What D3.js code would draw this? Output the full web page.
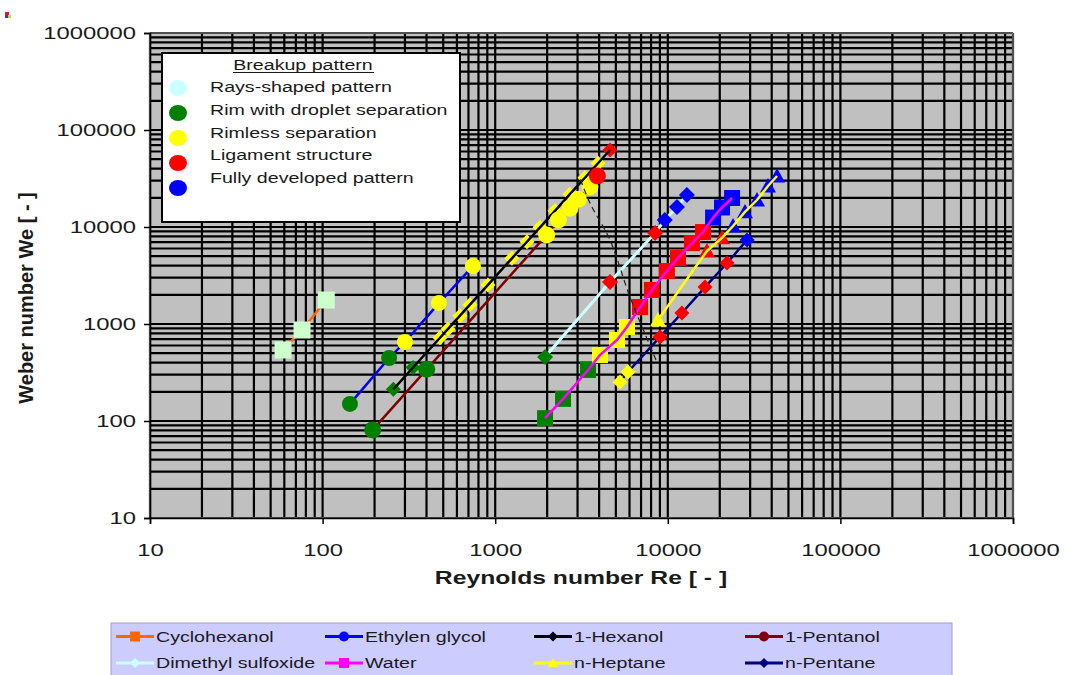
<!DOCTYPE html>
<html>
<head>
<meta charset="utf-8">
<script src="https://cdn.jsdelivr.net/npm/d3@7"></script>
<style>
  body { margin: 0; background: #fff; }
  svg { display: block; font-family: "Liberation Sans", Arial, sans-serif; }
</style>
</head>
<body>
<svg id="chart" width="1067" height="675"></svg>
<script>
// fluids in legend order, breakup patterns of the inner legend
var fluids = ["Cyclohexanol", "Ethylen glycol", "1-Hexanol", "1-Pentanol",
              "Dimethyl sulfoxide", "Water", "n-Heptane", "n-Pentane"];
var patterns = ["Rays-shaped pattern", "Rim with droplet separation", "Rimless separation",
                "Ligament structure", "Fully developed pattern"];
var decades = [10, 100, 1000, 10000, 100000, 1000000];

// each point: [Re, We, pattern index]
var cyclohexanol = [[59, 540, 0], [76, 867, 0], [105, 1767, 0]];
var ethylenGlycol = [[144, 150, 1], [243, 446, 1], [300, 652, 2], [472, 1643, 2], [743, 3963, 2]];
var hexanol = [[257, 212, 1], [334, 356, 1], [479, 722, 2], [533, 890, 2], [625, 1218, 2],
               [714, 1582, 2], [908, 2529, 2], [1250, 4754, 2], [1528, 7050, 2], [1818, 9930, 2],
               [2220, 14690, 2], [2710, 21780, 2], [3311, 32200, 2], [3942, 45400, 2], [4625, 62200, 3]];
var pentanol = [[195, 81, 1], [401, 341, 1], [1986, 8280, 2], [2323, 11800, 2], [2710, 15600, 2],
                [3030, 19300, 2], [3540, 26000, 2], [3908, 33600, 3]];
var dmso = [[1945, 457, 1], [4625, 2710, 3], [8440, 8670, 3], [9600, 11800, 4],
            [11300, 16100, 4], [12900, 21400, 4]];
var water = [[1945, 107, 1], [2472, 169, 1], [3450, 336, 1], [4046, 479, 2], [5080, 684, 2],
             [5800, 931, 2], [6905, 1497, 3], [8090, 2245, 3], [9880, 3515, 3], [11450, 4786, 3],
             [13800, 6840, 3], [16000, 8870, 3], [18300, 12500, 4], [20600, 15900, 4], [23570, 19900, 4]];
var heptane = [[8770, 1099, 2], [16860, 5665, 3], [20600, 7710, 3], [23880, 10240, 4],
               [28000, 14290, 4], [32860, 18970, 4], [38080, 26470, 4], [42960, 33560, 4]];
var pentane = [[5280, 252, 2], [5870, 320, 2], [9020, 735, 3], [12070, 1298, 3],
               [16430, 2404, 3], [22030, 4254, 3], [28780, 7340, 4]];
// hand drawn dashed transition line
var boundary = [[2978, 38700], [3540, 17660], [4625, 7340], [6040, 1897], [8650, 405]];

var seriesPoints = [cyclohexanol, ethylenGlycol, hexanol, pentanol, dmso, water, heptane, pentane];

// styles
var lineColors = ["#ff6600", "#0000ff", "#000000", "#800000", "#ccffff", "#ff00ff", "#ffff00", "#000080"];
var shapes = ["square", "circle", "diamond", "circle", "diamond", "square", "triangle", "diamond"];
var markerHalf = [8.5, 8, 7.5, 8.5, 8, 8, 8, 7.5];
var patternColors = ["#ccffff", "#008000", "#ffff00", "#ff0000", "#0000ff"];
var raysTint = {"Cyclohexanol": "#ccffcc"};
var linesOnTop = ["1-Hexanol", "Water", "n-Heptane"];

var svg = d3.select("#chart");
var stretch = 1.4; // the picture is wider than tall, text too

function widen(sel, k) {
  sel.each(function() {
    var w = this.getComputedTextLength();
    d3.select(this).attr("textLength", w * k).attr("lengthAdjust", "spacingAndGlyphs");
  });
}

function markerPath(shape, s) {
  if (shape == "circle") return d3.symbol(d3.symbolCircle, Math.PI * s * s)();
  if (shape == "square") return "M" + (-s) + "," + (-s) + "H" + s + "V" + s + "H" + (-s) + "Z";
  if (shape == "diamond") return "M0," + (-s) + "L" + s + ",0L0," + s + "L" + (-s) + ",0Z";
  return "M0," + (-s) + "L" + s + "," + (s * 0.8) + "L" + (-s) + "," + (s * 0.8) + "Z";
}

var plot = {left: 150, right: 1013, top: 33, bottom: 518};

var x = d3.scaleLog().domain([10, 1000000]).range([plot.left, plot.right]);
var y = d3.scaleLog().domain([10, 1000000]).range([plot.bottom, plot.top]);

// little icon top left
svg.append("rect").attr("x", 5).attr("y", 12).attr("width", 4).attr("height", 3).attr("fill", "#d02030");
svg.append("rect").attr("x", 5).attr("y", 15).attr("width", 4).attr("height", 3).attr("fill", "#3040c0");
svg.append("rect").attr("x", 8).attr("y", 15).attr("width", 3).attr("height", 3).attr("fill", "#e0d020");

// plot area
svg.append("rect")
  .attr("x", plot.left).attr("y", plot.top)
  .attr("width", plot.right - plot.left).attr("height", plot.bottom - plot.top)
  .attr("fill", "#c0c0c0");

var grid = svg.append("g").attr("stroke", "#000").attr("stroke-width", 2.2);
grid.selectAll(".vx").data(x.ticks()).enter().append("line")
  .attr("x1", d => x(d)).attr("x2", d => x(d))
  .attr("y1", plot.top).attr("y2", plot.bottom);
grid.selectAll(".hy").data(y.ticks()).enter().append("line")
  .attr("y1", d => y(d)).attr("y2", d => y(d))
  .attr("x1", plot.left).attr("x2", plot.right);

svg.append("rect")
  .attr("x", plot.left).attr("y", plot.top)
  .attr("width", plot.right - plot.left).attr("height", plot.bottom - plot.top)
  .attr("fill", "none").attr("stroke", "#a0a0a0").attr("stroke-width", 1);

// axes
var yAxis = svg.append("g")
  .attr("transform", "translate(" + plot.left + ",0)")
  .call(d3.axisLeft(y).tickValues(decades).tickFormat(d3.format("d")).tickSize(6).tickPadding(8));
var xAxis = svg.append("g")
  .attr("transform", "translate(0," + plot.bottom + ")")
  .call(d3.axisBottom(x).tickValues(decades).tickFormat(d3.format("d")).tickSize(6).tickPadding(20));
[xAxis, yAxis].forEach(function(a) {
  a.selectAll("path, line").attr("stroke", "#000").attr("stroke-width", 1.5);
  a.selectAll("text")
    .attr("font-family", "'Liberation Sans', Arial, sans-serif")
    .attr("font-size", 17).attr("fill", "#1a1a1a")
    .call(widen, stretch);
});

svg.append("text")
  .attr("x", 581).attr("y", 584)
  .attr("text-anchor", "middle")
  .attr("font-size", 19).attr("font-weight", "bold").attr("fill", "#1a1a1a")
  .text("Reynolds number Re [ - ]")
  .call(widen, 1.3);

svg.append("text")
  .attr("transform", "translate(33,298) rotate(-90)")
  .attr("text-anchor", "middle")
  .attr("font-size", 20).attr("font-weight", "bold").attr("fill", "#1a1a1a")
  .text("Weber number We [ - ]");

// series
var lineGen = d3.line().x(d => x(d[0])).y(d => y(d[1]));
var marks = svg.append("g");

function drawLine(g, i) {
  g.append("path")
    .attr("d", lineGen(seriesPoints[i]))
    .attr("fill", "none")
    .attr("stroke", lineColors[i])
    .attr("stroke-width", i == 4 ? 3 : 2.5);
}

seriesPoints.forEach(function(pts, i) {
  var g = marks.append("g").attr("class", "series");
  var onTop = linesOnTop.indexOf(fluids[i]) >= 0;
  if (!onTop) drawLine(g, i);
  g.selectAll("path.marker").data(pts).enter().append("path")
    .attr("class", "marker")
    .attr("transform", d => "translate(" + x(d[0]) + "," + y(d[1]) + ")")
    .attr("d", markerPath(shapes[i], markerHalf[i]))
    .attr("fill", d => (d[2] == 0 && raysTint[fluids[i]]) ? raysTint[fluids[i]] : patternColors[d[2]]);
  if (onTop) drawLine(g, i);
});

svg.append("path")
  .attr("d", d3.line().x(d => x(d[0])).y(d => y(d[1])).curve(d3.curveCatmullRom)(boundary))
  .attr("fill", "none")
  .attr("stroke", "#222")
  .attr("stroke-width", 1.2)
  .attr("stroke-dasharray", "6,4");

// breakup pattern legend
var leg = svg.append("g");
leg.append("rect")
  .attr("x", 162).attr("y", 53).attr("width", 298).attr("height", 169)
  .attr("fill", "#fff").attr("stroke", "#000").attr("stroke-width", 2);
leg.append("text")
  .attr("x", 303).attr("y", 70)
  .attr("text-anchor", "middle").attr("font-size", 14).attr("fill", "#1a1a1a")
  .text("Breakup pattern")
  .call(widen, stretch);
leg.append("line")
  .attr("x1", 233).attr("x2", 374).attr("y1", 72.5).attr("y2", 72.5)
  .attr("stroke", "#1a1a1a").attr("stroke-width", 1);
leg.selectAll("ellipse").data(patterns).enter().append("ellipse")
  .attr("cx", 178).attr("cy", (d, i) => 88 + i * 25)
  .attr("rx", 9).attr("ry", 8)
  .attr("fill", (d, i) => patternColors[i]);
leg.selectAll("text.item").data(patterns).enter().append("text")
  .attr("class", "item")
  .attr("x", 210).attr("y", (d, i) => 92 + i * 22.8)
  .attr("font-size", 14).attr("fill", "#1a1a1a")
  .text(d => d)
  .call(widen, stretch);

// fluid legend
var fl = svg.append("g");
fl.append("rect")
  .attr("x", 111).attr("y", 623).attr("width", 841).attr("height", 53)
  .attr("fill", "#ccccff").attr("stroke", "#a0a0c0").attr("stroke-width", 1);
var colX = [116, 325, 534, 745];
var rowY = [636.5, 663];
var items = fl.selectAll("g.item").data(fluids).enter().append("g")
  .attr("class", "item")
  .attr("transform", (d, i) => "translate(" + colX[i % 4] + "," + rowY[Math.floor(i / 4)] + ")");
items.append("line")
  .attr("x1", 0).attr("x2", 38)
  .attr("stroke", (d, i) => lineColors[i]).attr("stroke-width", 3);
items.append("path")
  .attr("transform", "translate(19,0)")
  .attr("d", (d, i) => markerPath(shapes[i], 5))
  .attr("fill", (d, i) => lineColors[i]);
items.append("text")
  .attr("x", 40).attr("dy", "0.36em")
  .attr("font-size", 14).attr("fill", "#1a1a1a")
  .text(d => d)
  .call(widen, stretch);
</script>
</body>
</html>
